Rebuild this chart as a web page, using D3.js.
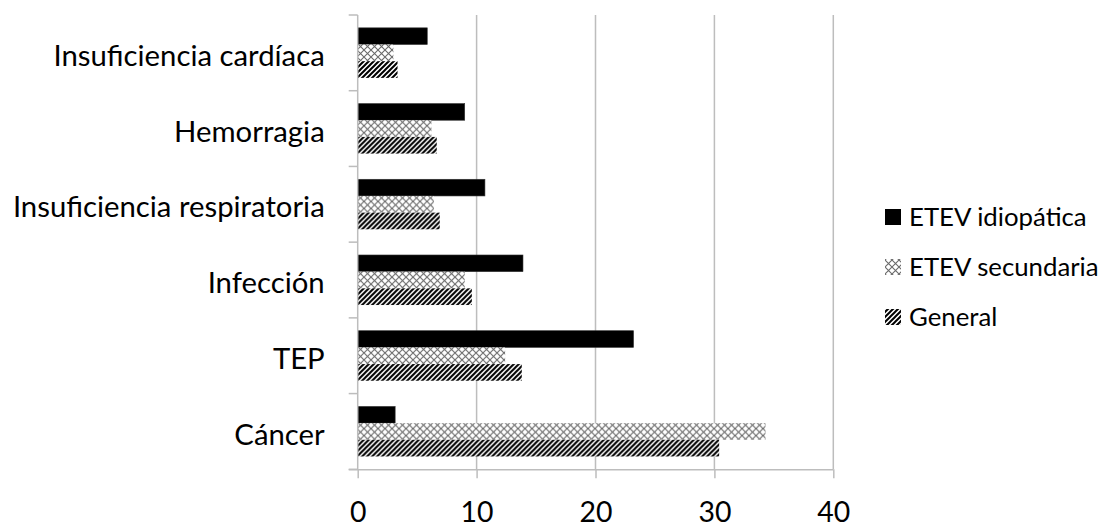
<!DOCTYPE html>
<html>
<head>
<meta charset="utf-8">
<script src="https://cdn.jsdelivr.net/npm/d3@7"></script>
<style>
  html, body { margin: 0; padding: 0; background: #fff; }
  svg { display: block; }
  text { font-family: Lato, "Open Sans", sans-serif; fill: #000; }
</style>
</head>
<body>
<svg id="chart" width="1108" height="527"></svg>
<script>
// ---- data ----
const categories = ["Insuficiencia cardíaca", "Hemorragia", "Insuficiencia respiratoria", "Infección", "TEP", "Cáncer"];
const seriesNames = ["ETEV idiopática", "ETEV secundaria", "General"];
const idiopatica = [5.85, 9.0, 10.7, 13.9, 23.2, 3.15];
const secundaria = [3.0, 6.2, 6.4, 9.0, 12.4, 34.3];
const general    = [3.35, 6.65, 6.9, 9.6, 13.8, 30.4];
const xTicks = [0, 10, 20, 30, 40];

const seriesValues = [idiopatica, secundaria, general];
const fills = ["#000", "url(#cross)", "url(#hatch)"];

const svg = d3.select("#chart");
const defs = svg.append("defs");

// cross (outlined diamond) pattern
const pc = defs.append("pattern").attr("id", "cross")
  .attr("patternUnits", "userSpaceOnUse").attr("width", 7).attr("height", 7);
pc.append("rect").attr("width", 7).attr("height", 7).attr("fill", "#fff");
pc.append("path").attr("d", "M0,0 L7,7 M7,0 L0,7")
  .attr("stroke", "#6a6a6a").attr("stroke-width", 1.1).attr("fill", "none");

// wide upward diagonal pattern
const ph = defs.append("pattern").attr("id", "hatch")
  .attr("patternUnits", "userSpaceOnUse").attr("width", 5).attr("height", 5);
ph.append("rect").attr("width", 5).attr("height", 5).attr("fill", "#fff");
ph.append("path").attr("d", "M0,5 L5,0 M-1,1 L1,-1 M4,6 L6,4")
  .attr("stroke", "#000").attr("stroke-width", 2).attr("fill", "none");

const plotLeft = 357.7, plotRight = 833.3, plotTop = 15, plotBottom = 469.3;

const x = d3.scaleLinear().domain([0, 40]).range([plotLeft, plotRight]);
const y = d3.scaleBand().domain(categories).range([plotTop, plotBottom]).padding(0);
const ySub = d3.scaleBand().domain(seriesNames).range([0, y.bandwidth()])
  .paddingInner(0).paddingOuter(0.77);

const gridColor = "#bdbdbd";

// gridlines
svg.append("g").selectAll("line").data(xTicks.filter(d => d > 0)).join("line")
  .attr("x1", d => x(d)).attr("x2", d => x(d))
  .attr("y1", plotTop).attr("y2", plotBottom)
  .attr("stroke", gridColor).attr("stroke-width", 1.5);

// bars
const groups = svg.append("g").selectAll("g").data(categories).join("g")
  .attr("transform", d => `translate(0,${y(d)})`);
groups.selectAll("rect")
  .data((c, i) => seriesNames.map((s, j) => ({ s, j, v: seriesValues[j][i] })))
  .join("rect")
  .attr("x", x(0))
  .attr("y", d => ySub(d.s))
  .attr("width", d => x(d.v) - x(0))
  .attr("height", ySub.bandwidth())
  .attr("fill", d => fills[d.j])
  .attr("stroke", d => d.j === 0 ? "#333" : "none")
  .attr("stroke-width", 0.6);

// x axis
const xAxis = d3.axisBottom(x).tickValues(xTicks).tickSize(9).tickPadding(0);
const gx = svg.append("g").attr("transform", `translate(0,${plotBottom})`).call(xAxis);
gx.select(".domain").attr("stroke", gridColor).attr("stroke-width", 1.5)
  .attr("d", `M${plotLeft - 9},0.5H${plotRight}`);
gx.selectAll(".tick line").attr("stroke", gridColor).attr("stroke-width", 1.5);
gx.selectAll(".tick text").attr("font-family", "Lato, sans-serif")
  .attr("y", 522 - plotBottom).attr("dy", 0);

// y axis
const yAxis = d3.axisLeft(y).tickSize(0).tickPadding(33);
const gy = svg.append("g").attr("transform", `translate(${plotLeft},0)`).call(yAxis);
gy.select(".domain").attr("stroke", gridColor).attr("stroke-width", 1.5)
  .attr("d", `M0,${plotTop}V${plotBottom}`);
gy.selectAll(".tick text").attr("font-size", 28).attr("font-family", "Lato, sans-serif")
  .attr("dy", "0.45em");
// category boundary ticks
svg.append("g").selectAll("line")
  .data(categories.map(c => y(c)).concat([plotBottom]))
  .join("line")
  .attr("x1", plotLeft - 9).attr("x2", plotLeft)
  .attr("y1", d => d).attr("y2", d => d)
  .attr("stroke", gridColor).attr("stroke-width", 1.5);

// fit category font to measured label width
const widest = gy.selectAll(".tick text").nodes()
  .reduce((m, n) => Math.max(m, n.getComputedTextLength()), 0);
const fs = 28 * 312 / widest;
gy.selectAll(".tick text").attr("font-size", fs);
gx.selectAll(".tick text").attr("font-size", fs * 0.97);

// legend
const legendY = [217, 267, 317];
const lg = svg.append("g").selectAll("g").data(seriesNames).join("g")
  .attr("transform", (d, i) => `translate(885,${legendY[i]})`);
lg.append("rect").attr("x", 0).attr("y", -8).attr("width", 16).attr("height", 16)
  .attr("fill", (d, i) => fills[i]);
lg.append("text").attr("x", 24).attr("y", 0).attr("dy", "0.36em")
  .attr("font-size", fs * 0.88).text(d => d);
</script>
</body>
</html>
